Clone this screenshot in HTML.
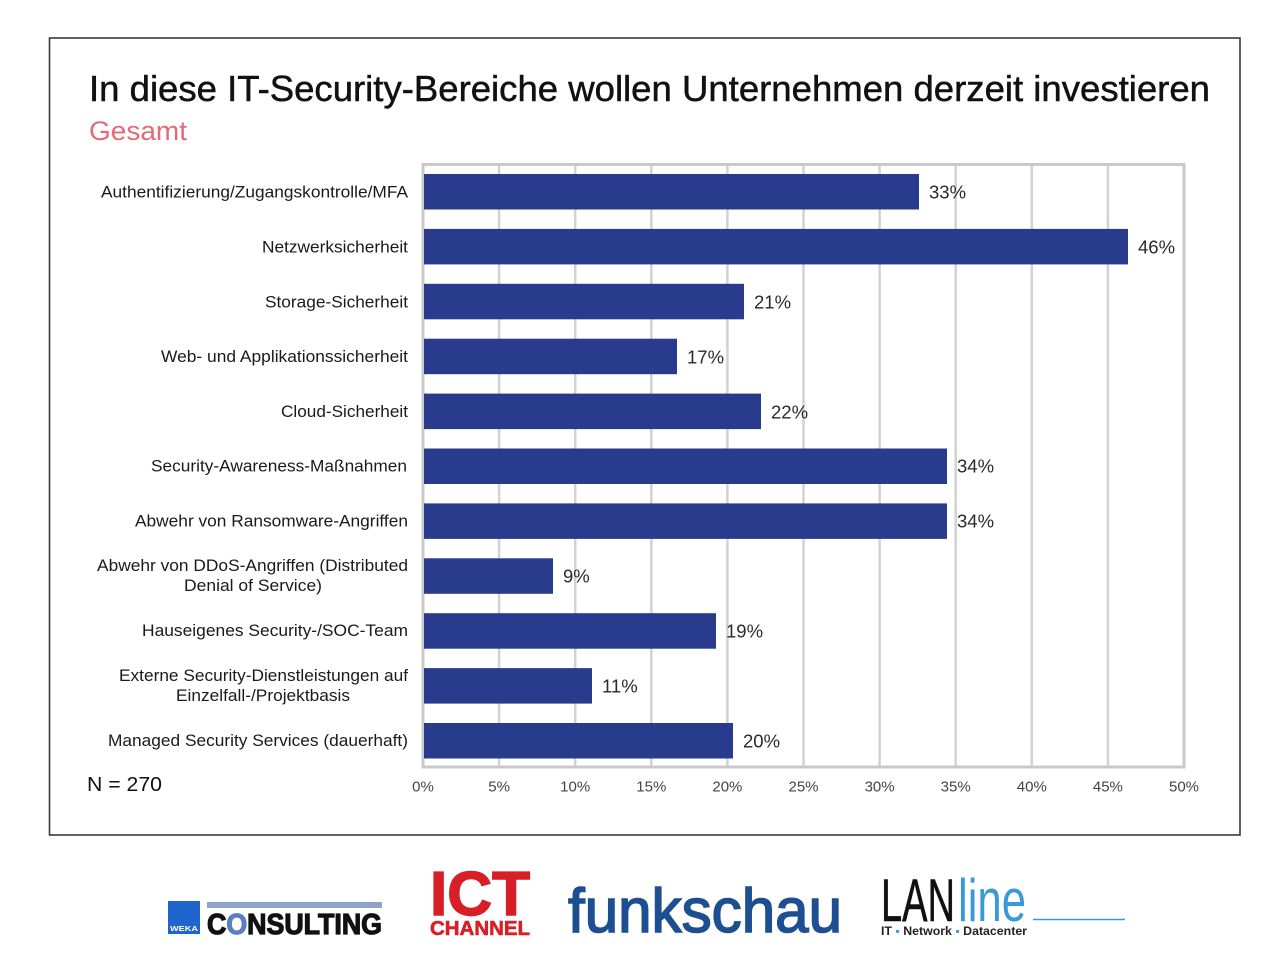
<!DOCTYPE html>
<html><head><meta charset="utf-8"><style>
html,body{margin:0;padding:0;background:#fff;}
svg{display:block;}
text{font-family:"Liberation Sans",Arial,sans-serif;}
</style></head><body>
<svg width="1280" height="980" viewBox="0 0 1280 980" xmlns="http://www.w3.org/2000/svg">
<rect x="0" y="0" width="1280" height="980" fill="#fff"/>
<rect x="49.5" y="38" width="1190.5" height="797" fill="#fff" stroke="#3a3a3a" stroke-width="1.6"/>
<text x="89" y="101" font-size="36" fill="#111" stroke="#111" stroke-width="0.5" textLength="1121" lengthAdjust="spacingAndGlyphs">In diese IT-Security-Bereiche wollen Unternehmen derzeit investieren</text>
<text x="89" y="140" font-size="26.5" fill="#e46a78" textLength="98" lengthAdjust="spacingAndGlyphs">Gesamt</text>
<g stroke="#d2d2d2" stroke-width="2.5">
<line x1="499.1" y1="164" x2="499.1" y2="767"/>
<line x1="575.2" y1="164" x2="575.2" y2="767"/>
<line x1="651.3" y1="164" x2="651.3" y2="767"/>
<line x1="727.4" y1="164" x2="727.4" y2="767"/>
<line x1="803.5" y1="164" x2="803.5" y2="767"/>
<line x1="879.6" y1="164" x2="879.6" y2="767"/>
<line x1="955.7" y1="164" x2="955.7" y2="767"/>
<line x1="1031.8" y1="164" x2="1031.8" y2="767"/>
<line x1="1107.9" y1="164" x2="1107.9" y2="767"/>
</g>
<rect x="423" y="164.5" width="761" height="602.5" fill="none" stroke="#c9c9c9" stroke-width="3"/>
<g fill="#293b8c">
<rect x="424" y="174" width="495" height="35.5"/>
<rect x="424" y="228.9" width="704" height="35.5"/>
<rect x="424" y="283.8" width="320" height="35.5"/>
<rect x="424" y="338.7" width="253" height="35.5"/>
<rect x="424" y="393.6" width="337" height="35.5"/>
<rect x="424" y="448.5" width="523" height="35.5"/>
<rect x="424" y="503.4" width="523" height="35.5"/>
<rect x="424" y="558.3" width="129" height="35.5"/>
<rect x="424" y="613.2" width="292" height="35.5"/>
<rect x="424" y="668.1" width="168" height="35.5"/>
<rect x="424" y="723" width="309" height="35.5"/>
</g>
<g font-size="18.5" fill="#2a2a2a">
<text x="929" y="198.5">33%</text>
<text x="1138" y="253.5">46%</text>
<text x="754" y="308.5">21%</text>
<text x="687" y="363.5">17%</text>
<text x="771" y="418.5">22%</text>
<text x="957" y="472.5">34%</text>
<text x="957" y="527.5">34%</text>
<text x="563" y="582.5">9%</text>
<text x="726" y="637.5">19%</text>
<text x="602" y="692.5">11%</text>
<text x="743" y="747.5">20%</text>
</g>
<g font-size="16.5" fill="#1a1a1a">
<text x="101" y="197.5" textLength="307" lengthAdjust="spacingAndGlyphs">Authentifizierung/Zugangskontrolle/MFA</text>
<text x="262" y="252.5" textLength="146" lengthAdjust="spacingAndGlyphs">Netzwerksicherheit</text>
<text x="265" y="307.5" textLength="143" lengthAdjust="spacingAndGlyphs">Storage-Sicherheit</text>
<text x="161" y="362" textLength="247" lengthAdjust="spacingAndGlyphs">Web- und Applikationssicherheit</text>
<text x="281" y="417" textLength="127" lengthAdjust="spacingAndGlyphs">Cloud-Sicherheit</text>
<text x="151" y="471.5" textLength="256" lengthAdjust="spacingAndGlyphs">Security-Awareness-Maßnahmen</text>
<text x="135" y="526.5" textLength="273" lengthAdjust="spacingAndGlyphs">Abwehr von Ransomware-Angriffen</text>
<text x="97" y="571" textLength="311" lengthAdjust="spacingAndGlyphs">Abwehr von DDoS-Angriffen (Distributed</text>
<text x="184" y="591" textLength="138" lengthAdjust="spacingAndGlyphs">Denial of Service)</text>
<text x="142" y="636" textLength="266" lengthAdjust="spacingAndGlyphs">Hauseigenes Security-/SOC-Team</text>
<text x="119" y="681" textLength="289" lengthAdjust="spacingAndGlyphs">Externe Security-Dienstleistungen auf</text>
<text x="176" y="701" textLength="174" lengthAdjust="spacingAndGlyphs">Einzelfall-/Projektbasis</text>
<text x="108" y="746" textLength="300" lengthAdjust="spacingAndGlyphs">Managed Security Services (dauerhaft)</text>
</g>
<text x="87" y="791" font-size="20" fill="#111" textLength="75" lengthAdjust="spacingAndGlyphs">N = 270</text>
<g font-size="15" fill="#444" text-anchor="middle">
<text x="423" y="791.5">0%</text>
<text x="499.1" y="791.5">5%</text>
<text x="575.2" y="791.5">10%</text>
<text x="651.3" y="791.5">15%</text>
<text x="727.4" y="791.5">20%</text>
<text x="803.5" y="791.5">25%</text>
<text x="879.6" y="791.5">30%</text>
<text x="955.7" y="791.5">35%</text>
<text x="1031.8" y="791.5">40%</text>
<text x="1107.9" y="791.5">45%</text>
<text x="1184" y="791.5">50%</text>
</g>
<!-- WEKA CONSULTING -->
<rect x="168" y="901" width="32" height="33" fill="#1e66cc"/>
<text x="170" y="931" font-size="7" font-weight="bold" fill="#fff" textLength="28" lengthAdjust="spacingAndGlyphs">WEKA</text>
<rect x="207" y="902" width="175" height="6" fill="#8fa4c8"/>
<text x="207" y="934" font-size="29" font-weight="900" fill="#111" stroke="#111" stroke-width="1.2" textLength="175" lengthAdjust="spacingAndGlyphs">C<tspan fill="#5a7fc2" stroke="#5a7fc2">O</tspan>NSULTING</text>
<!-- ICT CHANNEL -->
<text x="430" y="915" font-size="62" font-weight="bold" fill="#d81e27" stroke="#d81e27" stroke-width="1.5" textLength="100" lengthAdjust="spacingAndGlyphs">ICT</text>
<text x="430" y="935" font-size="20" font-weight="bold" fill="#d81e27" stroke="#d81e27" stroke-width="0.6" textLength="100" lengthAdjust="spacingAndGlyphs">CHANNEL</text>
<!-- funkschau -->
<text x="568" y="932" font-size="62" fill="#1d4f91" stroke="#1d4f91" stroke-width="1.6" textLength="274" lengthAdjust="spacingAndGlyphs">funkschau</text>
<!-- LANline -->
<text x="881" y="921" font-size="60" fill="#111" stroke="#111" stroke-width="0.6" textLength="74" lengthAdjust="spacingAndGlyphs">LAN</text>
<text x="958" y="921" font-size="60" fill="#3a9ad9" textLength="68" lengthAdjust="spacingAndGlyphs">line</text>
<line x1="1033" y1="919.5" x2="1125" y2="919.5" stroke="#3a9ad9" stroke-width="1.6"/>
<text x="881" y="935" font-size="11.5" font-weight="bold" fill="#222" textLength="146" lengthAdjust="spacingAndGlyphs">IT <tspan fill="#3a9ad9">▪</tspan> Network <tspan fill="#3a9ad9">▪</tspan> Datacenter</text>
</svg>
</body></html>
